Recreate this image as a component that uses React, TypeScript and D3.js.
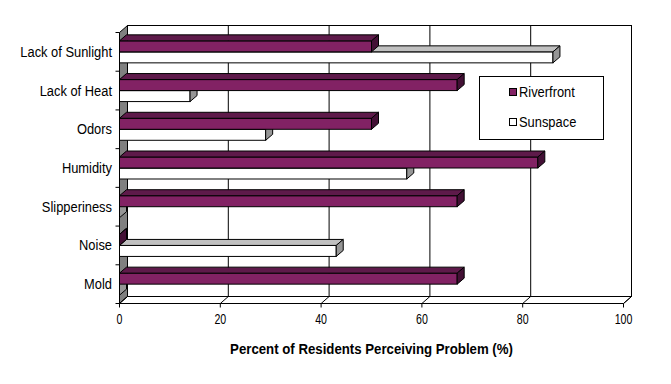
import * as d3 from 'd3'

const categories = ['Lack of Sunlight', 'Lack of Heat', 'Odors', 'Humidity', 'Slipperiness', 'Noise', 'Mold']
const seriesNames = ['Riverfront', 'Sunspace']
const riverfront = [50, 67, 50, 83, 67, 0, 67]
const sunspace = [86, 14, 29, 57, 0, 43, 0]
const xTicks = [0, 20, 40, 60, 80, 100]

const W = 671
const H = 384
const FRONT = { left: 119.5, right: 623.5, top: 32.5, bottom: 303.5 }
const WALL = { dx: 8, dy: 7 }
const BAR = { dx: 7, dy: 6 }
const FONT = '"Liberation Sans", Arial, sans-serif'

const COLORS: Record<string, { front: string; top: string; side: string }> = {
  Riverfront: { front: '#822264', top: '#5e1a4a', side: '#431035' },
  Sunspace: { front: '#ffffff', top: '#c0c0c0', side: '#969696' },
}

const pts = (p: [number, number][]) => p.map((d) => d.join(',')).join(' ')

function Label({ x, y, text, size, sx, anchor = 'middle', bold = false }: {
  x: number; y: number; text: string; size: number; sx: number; anchor?: string; bold?: boolean
}) {
  return (
    <g transform={`translate(${x},${y}) scale(${sx},1)`}>
      <text textAnchor={anchor} fontSize={size} fontFamily={FONT} fontWeight={bold ? 700 : 400} fill="#000">
        {text}
      </text>
    </g>
  )
}

function Bar({ x0, x1, y0, h, color }: { x0: number; x1: number; y0: number; h: number; color: { front: string; top: string; side: string } }) {
  const { dx, dy } = BAR
  return (
    <g stroke="#000" strokeWidth={1} strokeLinejoin="miter">
      <rect x={x0} y={y0} width={x1 - x0} height={h} fill={color.front} />
      <polygon points={pts([[x0, y0], [x1, y0], [x1 + dx, y0 - dy], [x0 + dx, y0 - dy]])} fill={color.top} />
      <polygon points={pts([[x1, y0], [x1 + dx, y0 - dy], [x1 + dx, y0 - dy + h], [x1, y0 + h]])} fill={color.side} />
    </g>
  )
}

export default function App() {
  const x = d3.scaleLinear().domain([0, 100]).range([FRONT.left, FRONT.right])
  const y = d3.scaleBand<string>().domain(categories).range([FRONT.top, FRONT.bottom]).padding(0)
  const inner = d3.scaleBand<string>().domain(seriesNames).range([0, y.bandwidth()]).paddingInner(0).paddingOuter(0.76)
  const values: Record<string, number[]> = { Riverfront: riverfront, Sunspace: sunspace }
  const { dx, dy } = WALL
  const boundaries = [...categories.map((c) => y(c) as number), FRONT.bottom]

  return (
    <svg width={W} height={H} style={{ position: 'absolute', left: 0, top: 0, background: '#fff' }}>
      {/* back wall */}
      <rect x={FRONT.left + dx} y={FRONT.top - dy} width={FRONT.right - FRONT.left} height={FRONT.bottom - FRONT.top}
        fill="#fff" stroke="#000" />
      {xTicks.map((t) => (
        <line key={t} x1={x(t) + dx} x2={x(t) + dx} y1={FRONT.top - dy} y2={FRONT.bottom - dy} stroke="#000" />
      ))}
      {/* left wall */}
      <polygon
        points={pts([[FRONT.left, FRONT.top], [FRONT.left + dx, FRONT.top - dy], [FRONT.left + dx, FRONT.bottom - dy], [FRONT.left, FRONT.bottom]])}
        fill="#808080" stroke="#000" />
      {/* floor */}
      <polygon
        points={pts([[FRONT.left, FRONT.bottom], [FRONT.right, FRONT.bottom], [FRONT.right + dx, FRONT.bottom - dy], [FRONT.left + dx, FRONT.bottom - dy]])}
        fill="#fff" stroke="#000" />
      {xTicks.map((t) => (
        <g key={t} stroke="#000">
          <line x1={x(t)} y1={FRONT.bottom} x2={x(t) + dx} y2={FRONT.bottom - dy} />
          <line x1={x(t)} y1={FRONT.bottom} x2={x(t)} y2={FRONT.bottom + 4} />
        </g>
      ))}
      {boundaries.map((b, i) => (
        <line key={i} x1={FRONT.left - 4} x2={FRONT.left} y1={b} y2={b} stroke="#000" />
      ))}

      {/* bars: lower series first so upper bar's front covers its top */}
      {categories.map((c, i) => (
        <g key={c}>
          {[...seriesNames].reverse().map((s) => (
            <Bar key={s} x0={x(0)} x1={x(values[s][i])} y0={(y(c) as number) + (inner(s) as number)}
              h={inner.bandwidth()} color={COLORS[s]} />
          ))}
        </g>
      ))}

      {/* category labels */}
      {categories.map((c) => (
        <Label key={c} x={112} y={(y(c) as number) + y.bandwidth() / 2 + 5} text={c} size={15} sx={0.86} anchor="end" />
      ))}
      {/* x tick labels */}
      {xTicks.map((t) => (
        <Label key={t} x={x(t)} y={323.5} text={String(t)} size={14} sx={0.76} />
      ))}
      <Label x={(FRONT.left + FRONT.right) / 2} y={353.5} text="Percent of Residents Perceiving Problem (%)" size={14} sx={0.945} bold />

      {/* legend */}
      <rect x={479.5} y={76.5} width={124} height={63} fill="#fff" stroke="#000" />
      {seriesNames.map((s, i) => (
        <g key={s}>
          <rect x={509.5} y={88.5 + i * 30} width={7} height={7} fill={COLORS[s].front} stroke="#000" />
          <Label x={519} y={96.5 + i * 30} text={s} size={15} sx={0.86} anchor="start" />
        </g>
      ))}
    </svg>
  )
}
